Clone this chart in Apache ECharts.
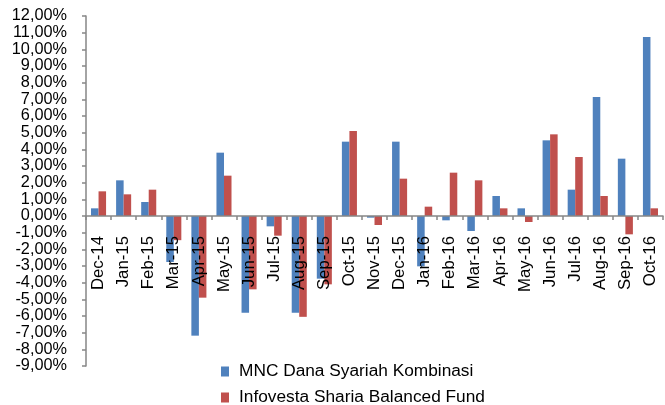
<!DOCTYPE html>
<html>
<head>
<meta charset="utf-8">
<script src="https://cdn.jsdelivr.net/npm/echarts@6/dist/echarts.min.js"></script>
<style>html,body{margin:0;padding:0;background:#fff}#c{width:665px;height:405px}</style>
</head>
<body>
<div id="c"></div>
<script>
var categories = ['Dec-14','Jan-15','Feb-15','Mar-15','Apr-15','May-15','Jun-15','Jul-15','Aug-15','Sep-15','Oct-15','Nov-15','Dec-15','Jan-16','Feb-16','Mar-16','Apr-16','May-16','Jun-16','Jul-16','Aug-16','Sep-16','Oct-16'];
var mncValues = [0.46, 2.14, 0.84, -2.76, -7.18, 3.80, -5.80, -0.62, -5.80, -3.76, 4.46, -0.10, 4.46, -3.02, -0.26, -0.90, 1.20, 0.46, 4.54, 1.58, 7.14, 3.44, 10.74];
var infovestaValues = [1.48, 1.30, 1.58, -1.45, -4.90, 2.42, -4.40, -1.18, -6.05, -4.10, 5.10, -0.54, 2.24, 0.56, 2.60, 2.14, 0.46, -0.36, 4.90, 3.54, 1.20, -1.10, 0.46];
var seriesNames = ['MNC Dana Syariah Kombinasi', 'Infovesta Sharia Balanced Fund'];
var yMin = -9, yMax = 12;

var font = 'Liberation Sans';
var gridTop = 16, gridBottom = 39, chartH = 405;
var plotH = chartH - gridTop - gridBottom;
// distance from grid bottom up to the zero line
var zeroOffset = -plotH * (0 - yMin) / (yMax - yMin);

var legendText = {fontFamily: font, fontSize: 17.3, color: '#000', lineHeight: 16, padding: [0,0,0,5]};
var chart = echarts.init(document.getElementById('c'));
chart.setOption({
  animation: false,
  textStyle: {fontFamily: font},
  grid: {left: 86, right: 2, top: gridTop, bottom: gridBottom, containLabel: false, outerBoundsMode: 'none'},
  legend: [
    {orient: 'vertical', left: 221, top: 363, padding: 0, itemWidth: 8, itemHeight: 10, icon: 'rect',
     textStyle: legendText, data: [seriesNames[0]]},
    {orient: 'vertical', left: 221, top: 389, padding: 0, itemWidth: 8, itemHeight: 10, icon: 'rect',
     textStyle: legendText, data: [seriesNames[1]]}
  ],
  xAxis: {
    type: 'category', data: categories, position: 'bottom', offset: zeroOffset, z: 10,
    axisLine: {show: true, onZero: false, lineStyle: {color: '#868686', width: 1.5}},
    axisTick: {show: true, length: 4, lineStyle: {color: '#868686', width: 1.5}},
    axisLabel: {rotate: 90, margin: 20, interval: 0, hideOverlap: false, fontFamily: font, fontSize: 16.8, color: '#000', padding: [7,0,0,0]}
  },
  yAxis: {
    type: 'value', min: yMin, max: yMax, interval: 1,
    splitLine: {show: false},
    axisLine: {show: true, lineStyle: {color: '#868686', width: 1.5}},
    axisTick: {show: true, length: 4, lineStyle: {color: '#868686', width: 1.5}},
    axisLabel: {margin: 19, fontFamily: font, fontSize: 16.3, lineHeight: 14, color: '#000', hideOverlap: false,
      showMinLabel: true, showMaxLabel: true,
      formatter: function (v) { return v.toFixed(2).replace('.', ',') + '%'; }}
  },
  series: [
    {name: seriesNames[0], type: 'bar', data: mncValues, barGap: '0%', barCategoryGap: '40%',
     itemStyle: {color: '#4F81BD'}},
    {name: seriesNames[1], type: 'bar', data: infovestaValues, barGap: '0%', barCategoryGap: '40%',
     itemStyle: {color: '#C0504D'}}
  ]
});
</script>
</body>
</html>
